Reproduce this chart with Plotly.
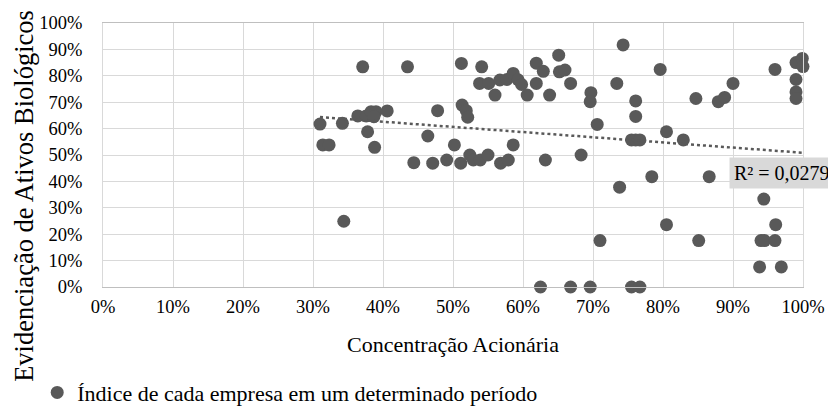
import numpy as np
import plotly.graph_objects as go

# Concentração Acionária (%)
conc = [31.0, 31.4, 32.3, 34.2, 34.4, 37.1, 36.4, 37.6, 38.3, 39.0, 38.7, 37.8, 38.8, 40.6,
        43.5, 44.4, 46.4, 47.1, 47.8, 49.1, 50.2, 51.1, 51.2, 51.3, 51.9, 52.1, 52.4, 52.9,
        53.9, 55.0, 54.1, 53.8, 55.1, 56.0, 56.7, 57.7, 58.6, 59.3, 59.8, 60.6, 61.9, 61.9,
        62.9, 63.8, 65.1, 65.2, 66.0, 66.8, 56.8, 57.9, 58.6, 63.2, 68.3, 69.7, 69.6, 70.6,
        73.4, 74.3, 76.1, 76.1, 75.5, 76.1, 76.7, 73.8, 71.0, 62.5, 66.8, 69.6, 75.5, 76.7,
        79.6, 80.5, 82.9, 84.7, 87.9, 88.8, 90.0, 78.4, 86.6, 96.0, 99.0, 99.9, 100.0, 99.0,
        99.0, 99.0, 94.4, 80.5, 96.1, 85.1, 94.0, 94.5, 96.0, 93.8, 96.9]
# Evidenciação de Ativos Biológicos (%)
evid = [61.7, 53.8, 53.8, 62.0, 24.9, 83.4, 64.8, 64.8, 66.4, 66.4, 64.5, 58.8, 52.9, 66.7,
        83.4, 47.1, 57.2, 46.9, 66.8, 48.1, 53.8, 46.9, 84.7, 68.9, 66.8, 64.3, 50.0, 48.1,
        48.1, 50.0, 83.4, 77.1, 77.1, 72.7, 78.4, 78.6, 80.9, 78.5, 76.7, 72.7, 84.8, 77.1,
        81.7, 72.7, 87.8, 81.5, 82.2, 77.1, 46.9, 48.1, 53.8, 48.1, 50.0, 73.6, 70.2, 61.6,
        77.1, 91.7, 70.5, 64.6, 55.7, 55.7, 55.7, 37.8, 17.6, 0.0, 0.0, 0.0, 0.0, 0.0,
        82.4, 58.8, 55.7, 71.4, 70.2, 71.8, 77.1, 41.8, 41.8, 82.4, 85.0, 86.6, 83.5, 78.6,
        73.9, 71.4, 33.3, 23.6, 23.6, 17.6, 17.6, 17.6, 17.6, 7.6, 7.6]

x_ticks = [0, 10, 20, 30, 40, 50, 60, 70, 80, 90, 100]
y_ticks = [0, 10, 20, 30, 40, 50, 60, 70, 80, 90, 100]
series_name = "Índice de cada empresa em um determinado período"
x_title = "Concentração Acionária"
y_title = "Evidenciação de Ativos Biológicos"
r2_label = "R² = 0,0279"

x = np.array(conc) / 100
y = np.array(evid) / 100
slope, intercept = np.polyfit(x, y, 1)
xt = np.array([x.min(), x.max()])
yt = slope * xt + intercept

FF = "Times New Roman"
grid = "#d9d9d9"

fig = go.Figure()
fig.add_trace(go.Scatter(
    x=x, y=y, mode="markers", name=series_name,
    marker=dict(size=13, color="#595959"), cliponaxis=False,
))
fig.add_trace(go.Scatter(
    x=xt, y=yt, mode="lines", showlegend=False,
    line=dict(color="#595959", width=2.5, dash="dot"), hoverinfo="skip",
))
fig.add_annotation(
    x=0.894, y=0.4305, xref="x", yref="y", text=r2_label, showarrow=False,
    font=dict(family=FF, size=20, color="#000000"),
    bgcolor="#d9d9d9", borderpad=4, xanchor="left", yanchor="middle",
)
fig.add_annotation(
    x=-0.113, y=0.345, xref="paper", yref="paper", text=y_title, showarrow=False,
    textangle=-90, font=dict(family=FF, size=26.5, color="#000000"),
    xanchor="center", yanchor="middle",
)
# page has an 8px body margin, so the figure is 8px smaller and margins compensate
fig.update_layout(
    width=828, height=399,
    margin=dict(l=95, r=33, t=15, b=120, autoexpand=False),
    paper_bgcolor="white", plot_bgcolor="white",
    font=dict(family=FF, size=18.5, color="#000000"),
    showlegend=True,
    legend=dict(orientation="h", x=-0.094, xanchor="left", y=-0.4, yanchor="middle",
                font=dict(family=FF, size=22)),
    xaxis=dict(
        range=[0, 1], tickvals=[v / 100 for v in x_ticks],
        ticktext=[f"{v}%" for v in x_ticks],
        showgrid=True, gridcolor=grid, gridwidth=1,
        showline=True, linecolor="#bfbfbf", linewidth=1, mirror=True,
        zeroline=False, ticks="", tickfont=dict(family=FF, size=18.5),
        ticklabelstandoff=3,
        title=dict(text=x_title, font=dict(family=FF, size=22), standoff=20),
    ),
    yaxis=dict(
        range=[0, 1], tickvals=[v / 100 for v in y_ticks],
        ticktext=[f"{v}%" for v in y_ticks],
        showgrid=True, gridcolor=grid, gridwidth=1,
        showline=True, linecolor=grid, linewidth=1, mirror=True,
        zeroline=False, ticks="", tickfont=dict(family=FF, size=18.5),
        ticklabelstandoff=16,
    ),
)
fig.write_html("out.html")
